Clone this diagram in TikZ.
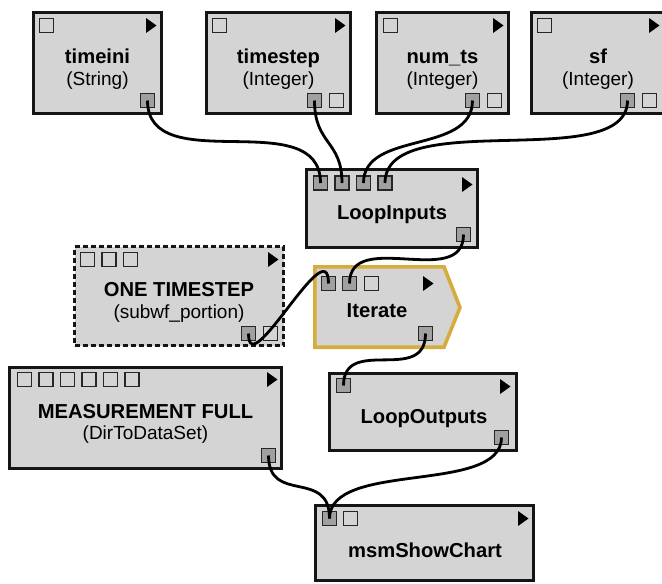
\documentclass[tikz,border=0pt]{standalone}
\usepackage{fontspec}
\setmainfont{Liberation Sans}
\definecolor{boxfill}{HTML}{D4D4D4}
\definecolor{boxline}{HTML}{151515}
\definecolor{portgray}{HTML}{A0A0A0}
\definecolor{portline}{HTML}{262626}
\definecolor{gold}{HTML}{D6AC3C}
\newcommand\playmark[2]{\fill[black] (#1,#2) -- ++(0,15) -- ++(10.5,-7.5) -- cycle;}
\begin{document}
\begin{tikzpicture}[x=1pt,y=-1pt,
 box/.style={draw=boxline, fill=boxfill, line width=3.3pt, inner sep=0pt},
 port/.style={draw=portline, line width=1.8pt, minimum size=14pt, inner sep=0pt},
 gport/.style={port, fill=portgray},
 eport/.style={port, fill=boxfill},
 wire/.style={line width=2.8pt, black},
 title/.style={font=\bfseries\fontsize{20.2}{22}\selectfont, anchor=base, inner sep=0pt, text=black},
 sub/.style={font=\fontsize{19}{22}\selectfont, anchor=base, inner sep=0pt, text=black}]
\useasboundingbox (0,0) rectangle (662,584);

% ---------- top row ----------
\node[box, minimum width=128pt, minimum height=101pt] (timeini) at (97.5,63) {};
\node[title] (timeiniT) at (97.5,63) {timeini};
\node[sub] (timeiniS) at (97.5,85) {(String)};
\node[eport] (timeiniIn) at (46.5,25.5) {};
\node[gport] (timeiniOut) at (147.5,100.5) {};
\playmark{146}{18}

\node[box, minimum width=144pt, minimum height=101pt] (timestep) at (278.5,63) {};
\node[title] (timestepT) at (278.5,63) {timestep};
\node[sub] (timestepS) at (278.5,85) {(Integer)};
\node[eport] (timestepIn) at (219.5,25.5) {};
\node[gport] (timestepOut) at (314.5,100.5) {};
\node[eport] (timestepX) at (336.5,100.5) {};
\playmark{335}{18}

\node[box, minimum width=132pt, minimum height=101pt] (numts) at (442.5,63) {};
\node[title] (numtsT) at (442.5,63) {num\_ts};
\node[sub] (numtsS) at (442.5,85) {(Integer)};
\node[eport] (numtsIn) at (390.5,25.5) {};
\node[gport] (numtsOut) at (472.5,100.5) {};
\node[eport] (numtsX) at (494.5,100.5) {};
\playmark{493}{18}

\node[box, minimum width=133pt, minimum height=101pt] (sf) at (598,63) {};
\node[title] (sfT) at (598,63) {sf};
\node[sub] (sfS) at (598,85) {(Integer)};
\node[eport] (sfIn) at (544.5,25.5) {};
\node[gport] (sfOut) at (627.5,100.5) {};
\node[eport] (sfX) at (649.5,100.5) {};
\playmark{649}{18}

% ---------- LoopInputs ----------
\node[box, minimum width=171pt, minimum height=78pt] (li) at (392,208.5) {};
\node[title] (liT) at (392,219) {LoopInputs};
\node[gport] (liIn1) at (320.5,183) {};
\node[gport] (liIn2) at (342,183) {};
\node[gport] (liIn3) at (363.5,183) {};
\node[gport] (liIn4) at (385,183) {};
\node[gport] (liOut) at (463.5,234.5) {};
\playmark{462}{177}

% ---------- ONE TIMESTEP ----------
\node[box, dash pattern=on 5pt off 3pt, minimum width=209pt, minimum height=99pt] (ots) at (179,296) {};
\node[title] (otsT) at (179,296) {ONE TIMESTEP};
\node[sub] (otsS) at (179,318) {(subwf\_portion)};
\node[eport] (otsIn1) at (87.5,259.5) {};
\node[eport] (otsIn2) at (109,259.5) {};
\node[eport] (otsIn3) at (130.5,259.5) {};
\node[gport] (otsOut) at (248.5,333.5) {};
\node[eport] (otsX) at (270.5,333.5) {};
\playmark{268}{252}

% ---------- Iterate ----------
\draw[gold, fill=boxfill, line width=3.6pt, line join=miter]
  (314.8,266.8) -- (444,266.8) -- (460,307.5) -- (444,347.2) -- (314.8,347.2) -- cycle;
\node[title] (itT) at (377,317) {Iterate};
\node[gport] (itIn1) at (328.5,283.5) {};
\node[gport] (itIn2) at (349.5,283.5) {};
\node[eport] (itIn3) at (371.5,283.5) {};
\node[gport] (itOut) at (425.5,333.5) {};
\playmark{423}{276}

% ---------- MEASUREMENT FULL ----------
\node[box, minimum width=272pt, minimum height=101pt] (mf) at (145.5,418) {};
\node[title] (mfT) at (145.5,418) {MEASUREMENT FULL};
\node[sub] (mfS) at (145.5,439) {(DirToDataSet)};
\node[eport] (mfIn0) at (24.5,379.5) {};
\node[eport] (mfIn1) at (46,379.5) {};
\node[eport] (mfIn2) at (67.5,379.5) {};
\node[eport] (mfIn3) at (89,379.5) {};
\node[eport] (mfIn4) at (110.5,379.5) {};
\node[eport] (mfIn5) at (132,379.5) {};
\node[gport] (mfOut) at (268.5,455.5) {};
\playmark{267}{372}

% ---------- LoopOutputs ----------
\node[box, minimum width=187pt, minimum height=77pt] (lo) at (423,412) {};
\node[title] (loT) at (424,423) {LoopOutputs};
\node[gport] (loIn) at (343.5,385.5) {};
\node[gport] (loOut) at (501.5,437.5) {};
\playmark{500}{379}

% ---------- msmShowChart ----------
\node[box, minimum width=218pt, minimum height=75pt] (msm) at (424.5,543) {};
\node[title] (msmT) at (425,557) {msmShowChart};
\node[gport] (msmIn1) at (329.5,518.5) {};
\node[eport] (msmIn2) at (350.5,518.5) {};
\playmark{518}{511}

% ---------- wires ----------
\draw[wire] (timeiniOut.center) .. controls (147.5,180) and (320.5,103) .. (liIn1.center);
\draw[wire] (timestepOut.center) .. controls (314.5,145) and (342,140) .. (liIn2.center);
\draw[wire] (numtsOut.center) .. controls (472.5,155) and (363.5,130) .. (liIn3.center);
\draw[wire] (sfOut.center) .. controls (627.5,175) and (385,105) .. (liIn4.center);
\draw[wire] (liOut.center) .. controls (463.5,290) and (349.5,228) .. (itIn2.center);
\draw[wire] (otsOut.center) .. controls (248.5,385) and (328.5,228) .. (itIn1.center);
\draw[wire] (itOut.center) .. controls (425.5,385) and (343.5,335) .. (loIn.center);
\draw[wire] (mfOut.center) .. controls (268.5,505) and (329.5,468) .. (msmIn1.center);
\draw[wire] (loOut.center) .. controls (501.5,495) and (329.5,460) .. (msmIn1.center);
\end{tikzpicture}
\end{document}
